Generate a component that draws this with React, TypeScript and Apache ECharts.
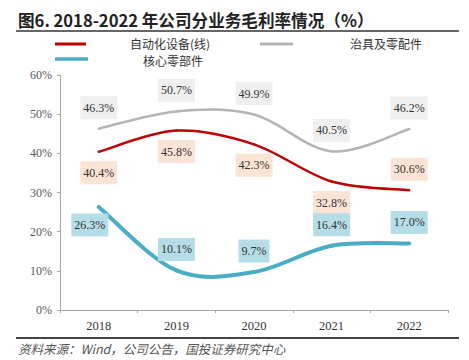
import React, { useEffect, useRef } from "react";
import * as echarts from "echarts";

const years = ["2018", "2019", "2020", "2021", "2022"];
const automation = [40.4, 45.8, 42.3, 32.8, 30.6];
const fixtures = [46.3, 50.7, 49.9, 40.5, 46.2];
const coreParts = [26.3, 10.1, 9.7, 16.4, 17.0];
const yTicks = [0, 10, 20, 30, 40, 50, 60];

const seriesNames = ["自动化设备(线)", "治具及零配件", "核心零部件"];
const titleText = "图6. 2018-2022 年公司分业务毛利率情况（%）";
const sourceText = "资料来源：Wind，公司公告，国投证券研究中心";

// label placement per point (style only)
const autoPos = ["bottom", "bottom", "bottom", "bottom", "top"];
const fixPos = ["top", "top", "top", "top", "top"];
const corePos = ["bottom", "top", "top", "top", "top"];
const coreOffset: number[][] = [[-9, -3], [0, 0], [0, 0], [0, 0], [0, 0]];

const serif = "'Liberation Serif', 'Times New Roman', serif";
const cjk = "'Noto Sans CJK SC', sans-serif";

function makeData(values: number[], pos: string[], bg: string, offsets?: number[][]) {
  return values.map((v, i) => ({
    value: v,
    label: {
      show: true,
      position: pos[i],
      distance: 9,
      offset: offsets ? offsets[i] : [0, 0],
      formatter: (p: any) => p.value.toFixed(1) + "%",
      backgroundColor: bg,
      borderWidth: 0,
      borderColor: "transparent",
      textBorderWidth: 0,
      textBorderColor: "transparent",
      padding: [5, 3, 5, 3],
      color: "#333",
      fontFamily: serif,
      fontSize: 12,
      lineHeight: 13,
    },
  }));
}

// Excel-like smoothed curve (Catmull-Rom -> bezier), drawn through the chart's scales
function curveSeries(name: string, values: number[], color: string, width: number) {
  return {
    name: name + "-curve",
    type: "custom",
    coordinateSystem: "cartesian2d",
    data: values.map((v, i) => [i, v]),
    encode: { x: 0, y: 1 },
    silent: true,
    z: 1,
    clip: false,
    renderItem: (params: any, api: any) => {
      const i = params.dataIndex;
      const n = values.length;
      if (i >= n - 1) return { type: "group", children: [] };
      const pt = (k: number) => {
        const kk = Math.max(0, Math.min(n - 1, k));
        return api.coord([kk, values[kk]]);
      };
      const p0 = pt(i - 1);
      const p1 = pt(i);
      const p2 = pt(i + 1);
      const p3 = pt(i + 2);
      const t = 1 / 6;
      return {
        type: "bezierCurve",
        shape: {
          x1: p1[0],
          y1: p1[1],
          cpx1: p1[0] + (p2[0] - p0[0]) * t,
          cpy1: p1[1] + (p2[1] - p0[1]) * t,
          cpx2: p2[0] - (p3[0] - p1[0]) * t,
          cpy2: p2[1] - (p3[1] - p1[1]) * t,
          x2: p2[0],
          y2: p2[1],
        },
        style: { stroke: color, lineWidth: width, fill: "none", lineCap: "round" },
      };
    },
  };
}

function labelSeries(name: string, values: number[], pos: string[], bg: string, offsets?: number[][]) {
  return {
    name,
    type: "line",
    showSymbol: true,
    symbol: "circle",
    symbolSize: 1,
    data: makeData(values, pos, bg, offsets),
    lineStyle: { opacity: 0, width: 0 },
    itemStyle: { color: "rgba(0,0,0,0)", borderWidth: 0 },
    z: 3,
  };
}

export default function App() {
  const ref = useRef<HTMLDivElement>(null);
  useEffect(() => {
    if (!ref.current) return;
    const chart = echarts.init(ref.current, undefined, { renderer: "svg" });
    chart.setOption({
      animation: false,
      backgroundColor: "#fff",
      grid: { left: 60, right: 21, top: 75, bottom: 50 },
      xAxis: {
        type: "category",
        data: years,
        boundaryGap: true,
        axisLine: { lineStyle: { color: "#a6a6a6", width: 1 } },
        axisTick: { show: true, length: 3, alignWithLabel: false, lineStyle: { color: "#a6a6a6" } },
        axisLabel: { color: "#333", fontFamily: serif, fontSize: 12.5, margin: 9 },
        splitLine: { show: false },
      },
      yAxis: {
        type: "value",
        min: yTicks[0],
        max: yTicks[yTicks.length - 1],
        interval: 10,
        axisLine: { show: true, lineStyle: { color: "#a6a6a6", width: 1 } },
        axisTick: { show: true, length: 3, lineStyle: { color: "#a6a6a6" } },
        axisLabel: { color: "#595959", fontFamily: serif, fontSize: 12, margin: 8, formatter: "{value}%" },
        splitLine: { show: false },
      },
      series: [
        curveSeries(seriesNames[1], fixtures, "#b4b4b4", 2.5),
        curveSeries(seriesNames[0], automation, "#c00000", 2.5),
        curveSeries(seriesNames[2], coreParts, "#4bacc6", 4),
        labelSeries(seriesNames[1], fixtures, fixPos, "#efefef"),
        labelSeries(seriesNames[0], automation, autoPos, "#fbe4d6"),
        labelSeries(seriesNames[2], coreParts, corePos, "#b5dde8", coreOffset),
      ],
      graphic: [
        {
          type: "text",
          left: 18,
          top: 12,
          style: { text: titleText, font: "bold 16.6px 'Noto Sans CJK SC', sans-serif", fill: "#222" },
        },
        { type: "line", shape: { x1: 16, y1: 31, x2: 459, y2: 31 }, style: { stroke: "#333", lineWidth: 1.5 } },
        { type: "line", shape: { x1: 55, y1: 44, x2: 86, y2: 44 }, style: { stroke: "#c00000", lineWidth: 3 } },
        { type: "text", x: 130, y: 43.5, style: { text: seriesNames[0], font: "12px " + cjk, fill: "#333", verticalAlign: "middle" } },
        { type: "line", shape: { x1: 260, y1: 44, x2: 293, y2: 44 }, style: { stroke: "#b4b4b4", lineWidth: 3 } },
        { type: "text", x: 350, y: 43.5, style: { text: seriesNames[1], font: "12px " + cjk, fill: "#333", verticalAlign: "middle" } },
        { type: "line", shape: { x1: 55, y1: 59, x2: 88, y2: 59 }, style: { stroke: "#4bacc6", lineWidth: 3.5 } },
        { type: "text", x: 143, y: 60.5, style: { text: seriesNames[2], font: "12px " + cjk, fill: "#333", verticalAlign: "middle" } },
        { type: "line", shape: { x1: 16, y1: 338, x2: 459, y2: 338 }, style: { stroke: "#444", lineWidth: 2 } },
        { type: "text", x: 18, y: 348, style: { text: sourceText, font: "italic 12.5px " + cjk, fill: "#555", verticalAlign: "middle" } },
      ],
    });
    return () => chart.dispose();
  }, []);
  return <div ref={ref} style={{ width: 469, height: 360, position: "absolute", left: 0, top: 0 }} />;
}
